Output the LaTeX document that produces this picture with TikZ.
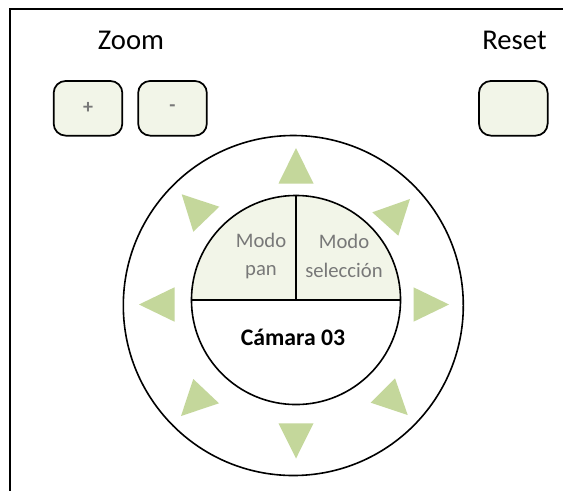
\documentclass[tikz,border=0pt]{standalone}
\usepackage{fontspec}
\setmainfont{Carlito}
\definecolor{btnfill}{RGB}{242,245,232}
\definecolor{arrowgreen}{RGB}{196,215,155}
\definecolor{modegray}{RGB}{120,120,120}
\tikzset{
  btn/.style={draw, line width=1.3pt, rounded corners=9pt, fill=btnfill,
    minimum width=51.5pt, minimum height=41pt, inner sep=0pt,
    text=modegray, font=\bfseries\fontsize{15}{17}\selectfont},
  caption/.style={inner sep=0pt, font=\fontsize{21.5}{24}\selectfont},
  ring/.style={draw, circle, line width=1.2pt, inner sep=0pt},
  modetext/.style={align=center, inner sep=0pt, text=modegray,
    font=\fontsize{15.5}{21.2}\selectfont},
  camtext/.style={inner sep=0pt, font=\bfseries\fontsize{17.8}{20}\selectfont},
  arrowtri/.style={fill=arrowgreen}
}
\begin{document}
\begin{tikzpicture}[x=0.75pt,y=-0.75pt]
\clip (0,0) rectangle (563,490);
\fill[white] (0,0) rectangle (563,490);
% frame (continues beyond the picture)
\draw[line width=1.5pt] (10,520) -- (10,8.5) -- (600,8.5);

% labels and buttons
\node[caption] (zoomlbl) at (131,40) {Zoom};
\node[caption] (resetlbl) at (514.5,40) {Reset};
\node[btn] (zin) at (88,108.3) {+};
\node[btn] (zout) at (172.5,108.3) {-};
\node[btn] (reset) at (513.3,108.3) {};

% outer ring
\node[ring, minimum size=255pt] (outer) at (293.3,305.5) {};

% inner circle with filled upper half
\coordinate (c) at (296,300);
\begin{scope}
  \clip (150,150) rectangle (450,300);
  \fill[btnfill] (c) circle[radius=78.4pt];
\end{scope}
\node[ring, minimum size=156.8pt] (inner) at (c) {};
\draw[line width=1.2pt] (inner.west) -- (inner.east);
\draw[line width=1.2pt] (inner.north) -- (inner.center);

\node[modetext] (pan) at (261,256) {Modo\\pan};
\node[modetext] (sel) at (344,256) {Modo\\selección};
\node[camtext] (cam) at (293,337) {Cámara 03};

% direction triangles
\fill[arrowtri] (296,148) -- (313.5,183.5) -- (278.5,183.5) -- cycle;
\fill[arrowtri] (296,458.5) -- (313.5,423.3) -- (278.5,423.3) -- cycle;
\fill[arrowtri] (139,304.5) -- (174.5,287.3) -- (174.5,321.7) -- cycle;
\fill[arrowtri] (449,304.5) -- (413.5,287.3) -- (413.5,321.7) -- cycle;
\fill[arrowtri] (181.7,194.3) -- (219.3,206.7) -- (193.3,231.7) -- cycle;
\fill[arrowtri] (410,199) -- (372.3,212.3) -- (398.3,235.7) -- cycle;
\fill[arrowtri] (181,416) -- (193.3,379) -- (219,403.3) -- cycle;
\fill[arrowtri] (407.7,415) -- (395,378.3) -- (370.7,402.7) -- cycle;
\end{tikzpicture}
\end{document}
